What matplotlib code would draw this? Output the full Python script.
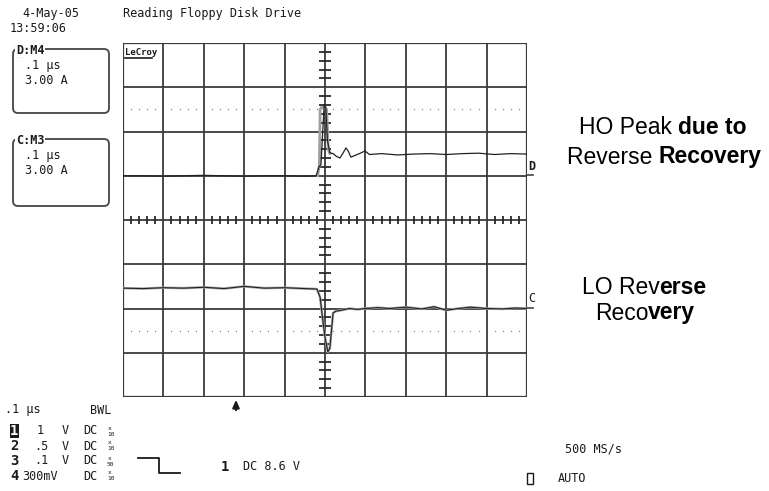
import numpy as np
import matplotlib
matplotlib.use("Agg")
import matplotlib.pyplot as plt
from matplotlib.patches import FancyBboxPatch, Rectangle
from matplotlib.offsetbox import TextArea, HPacker, AnnotationBbox

# scope traces, in screen divisions (10 x 8, trigger at 5)
ho_t = [0.0, 0.5, 1.0, 1.5, 2.0, 2.5, 3.0, 3.5, 4.0, 4.5, 4.78, 4.85, 4.9, 4.95,
        4.98, 5.02, 5.06, 5.12, 5.2, 5.28, 5.37, 5.45, 5.52, 5.58, 5.64, 5.72,
        5.85, 5.99, 6.1, 6.4, 6.8, 7.2, 7.6, 8.0, 8.4, 8.8, 9.2, 9.6, 10.0]
ho_v = [1.0, 1.0, 0.99, 1.0, 1.01, 1.0, 0.99, 1.0, 1.0, 0.99, 1.0, 1.2, 1.25, 2.1,
        2.6, 2.55, 1.8, 1.52, 1.5, 1.44, 1.40, 1.52, 1.63, 1.55, 1.42, 1.45,
        1.5, 1.56, 1.48, 1.5, 1.47, 1.49, 1.5, 1.48, 1.5, 1.51, 1.48, 1.5, 1.49]
# grey persistence envelope around the spike
ho_env_t = [4.82, 4.86, 4.88, 4.92, 5.04, 5.08, 5.12]
ho_env_v = [1.0, 1.25, 2.5, 2.55, 2.5, 1.6, 1.5]

lo_t = [0.0, 0.5, 1.0, 1.5, 2.0, 2.5, 3.0, 3.5, 4.0, 4.5, 4.8, 4.88, 4.95, 5.0,
        5.07, 5.12, 5.2, 5.27, 5.4, 5.6, 5.8, 6.0, 6.3, 6.6, 7.0, 7.4, 7.7, 8.0,
        8.3, 8.6, 9.0, 9.4, 9.7, 10.0]
lo_v = [-1.54, -1.55, -1.53, -1.54, -1.52, -1.55, -1.5, -1.54, -1.53, -1.55,
        -1.56, -1.75, -2.3, -2.65, -2.98, -2.9, -2.1, -2.06, -2.04, -2.0, -2.02,
        -2.0, -1.98, -2.0, -1.97, -2.01, -1.96, -2.04, -2.0, -1.97, -2.0, -2.01,
        -1.99, -2.0]

ref_levels = [2.5, -2.5]

W, H = 769, 491
mono = "DejaVu Sans Mono"
ink = "#1a1a1a"

fig = plt.figure(figsize=(W / 100, H / 100), dpi=100)

# overlay in pixel coords for the scope chrome
deco = fig.add_axes([0, 0, 1, 1])
deco.set_xlim(0, W)
deco.set_ylim(H, 0)
deco.axis("off")

ax = fig.add_axes([123 / W, (H - 397) / H, 404 / W, 354 / H])
ax.set_xlim(0, 10)
ax.set_ylim(-4, 4)
ax.patch.set_alpha(0)
ax.axis("off")

for i in range(11):
    ax.axvline(i, color="#3a3a3a", lw=1.6 if i in (0, 10) else 1.3, zorder=1)
for j in range(-4, 5):
    ax.axhline(j, color="#3a3a3a", lw=1.6 if abs(j) == 4 else 1.3, zorder=1)

minor = [k / 5 for k in range(51) if k % 5 != 0]
ax.plot(minor, [0] * len(minor), ls="none", marker="|", ms=6, mew=1.3,
        color="#2a2a2a", zorder=2)
minor_y = [k / 5 - 4 for k in range(41) if k % 5 != 0]
ax.plot([5] * len(minor_y), minor_y, ls="none", marker="_", ms=8, mew=1.3,
        color="#2a2a2a", zorder=2)
for lvl in ref_levels:
    ax.plot(minor, [lvl] * len(minor), ls="none", marker="s", ms=0.9,
            mew=0, color="#8a8a8a", zorder=2)

ax.plot(ho_env_t, ho_env_v, color="#a0a0a0", lw=2.0, zorder=3)
ax.plot(ho_t, ho_v, color="#222222", lw=0.9, zorder=4)
ax.plot(lo_t, lo_v, color="#a8a8a8", lw=1.8, zorder=3)
ax.plot(lo_t, lo_v, color="#222222", lw=0.8, zorder=4)

# header
deco.text(22, 13, "4-May-05", family=mono, fontsize=8.5, color=ink, va="center")
deco.text(10, 28, "13:59:06", family=mono, fontsize=8.5, color=ink, va="center")
deco.text(123, 13, "Reading Floppy Disk Drive", family=mono, fontsize=8.5,
          color=ink, va="center")

# channel boxes
for top, bot, lab in [(49, 113, ":M4"), (139, 206, ":M3")]:
    deco.add_patch(FancyBboxPatch((13, top), 96, bot - top,
                                  boxstyle="round,pad=0,rounding_size=5",
                                  fc="none", ec="#444444", lw=1.3))
    letter = "D" if lab == ":M4" else "C"
    deco.text(16, top + 1, letter + lab, family=mono, fontsize=8.5,
              weight="bold", color=ink, va="center",
              bbox=dict(fc="white", ec="none", pad=0.5))
    deco.text(25, top + 16, ".1 \u03bcs", family=mono, fontsize=8.5,
              color=ink, va="center")
    deco.text(25, top + 31, "3.00 A", family=mono, fontsize=8.5,
              color=ink, va="center")
deco.add_patch(Rectangle((15, 44), 7, 12, fc="none", ec=ink, lw=0.8))

deco.text(125, 52, "LeCroy", family=mono, fontsize=6.5, weight="bold",
          color=ink, va="center")
deco.plot([125, 152], [58, 58], color=ink, lw=1.2)

# trace markers on the right edge
deco.text(528, 166, "D", family=mono, fontsize=8.5, weight="bold",
          color=ink, va="center")
deco.plot([527, 533], [175, 175], color="#444444", lw=1.2)
deco.text(528, 298, "C", family=mono, fontsize=8.5, color=ink, va="center")
deco.plot([527, 533], [308, 308], color="#444444", lw=1.2)

# trigger arrow
deco.annotate("", xy=(236, 397), xytext=(236, 413),
              arrowprops=dict(arrowstyle="-|>,head_width=0.2,head_length=0.45",
                              color=ink, lw=1.5))

# bottom status
deco.text(5, 410, ".1 \u03bcs", family=mono, fontsize=8.5, color=ink, va="center")
deco.text(90, 410, "BWL", family=mono, fontsize=8.5, color=ink, va="center")
rows = [("1", "1", "V", "10"), ("2", ".5", "V", "10"),
        ("3", ".1", "V", "50"), ("4", "300mV", "", "10")]
for k, (ch, vdiv, unit, att) in enumerate(rows):
    y = 431 + k * 15
    deco.text(10, y, ch, family=mono, fontsize=10, weight="bold",
              color="white" if k == 0 else ink, va="center",
              bbox=dict(fc=ink, ec="none", pad=0.3) if k == 0 else None)
    xv = {"1": 37, "300mV": 22}.get(vdiv, 34)
    deco.text(xv, y, vdiv, family=mono, fontsize=8.5, color=ink, va="center")
    if unit:
        deco.text(62, y, unit, family=mono, fontsize=8.5, color=ink, va="center")
    deco.text(83, y, "DC", family=mono, fontsize=8.5, color=ink, va="center")
    deco.text(108, y - 3, "x", family=mono, fontsize=4.5, color=ink, va="center")
    deco.text(107, y + 3, att, family=mono, fontsize=4.5, color=ink, va="center")

deco.plot([138, 159, 159, 180], [458, 458, 473, 473], color=ink, lw=1.3)
deco.text(221, 467, "1", family=mono, fontsize=10, weight="bold", color=ink,
          va="center")
deco.text(243, 467, "DC 8.6 V", family=mono, fontsize=8.5, color=ink, va="center")
deco.text(565, 449, "500 MS/s", family=mono, fontsize=8.5, color=ink, va="center")
deco.add_patch(Rectangle((527, 473), 6, 11, fc="none", ec=ink, lw=1.0))
deco.text(558, 479, "AUTO", family=mono, fontsize=8.5, color=ink, va="center")


# annotations with mixed weight words
def mixed(parts, x, y):
    boxes = [TextArea(t, textprops=dict(family="Liberation Sans", fontsize=16.5,
                                        weight=w, color="black"))
             for t, w in parts]
    pack = HPacker(children=boxes, pad=0, sep=0)
    ab = AnnotationBbox(pack, (x, y), xycoords="figure pixels",
                        box_alignment=(0.5, 0.5), frameon=False)
    fig.add_artist(ab)


mixed([("HO Peak ", "normal"), ("due to", "bold")], 663, H - 127)
mixed([("Reverse ", "normal"), ("Recovery", "bold")], 664, H - 157)
mixed([("LO Rev", "normal"), ("erse", "bold")], 644, H - 287)
mixed([("Reco", "normal"), ("very", "bold")], 645, H - 313)

fig.savefig("out.png", dpi=100)
